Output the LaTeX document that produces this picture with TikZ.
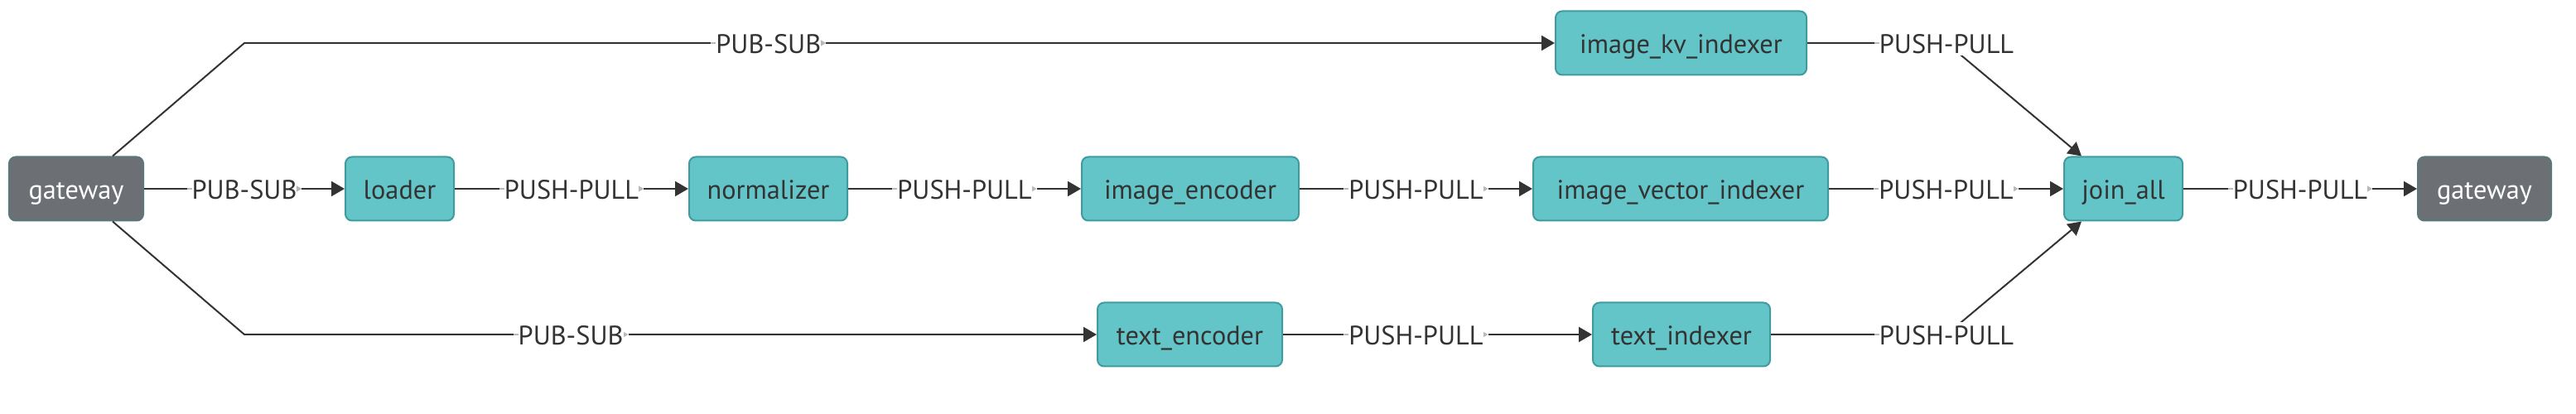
\documentclass[tikz,border=0pt]{standalone}
\usepackage{fontspec}
\setmainfont{PT Sans}
\usetikzlibrary{arrows.meta, positioning}
\definecolor{podfill}{HTML}{64C5C9}
\definecolor{podline}{HTML}{3F9B9E}
\definecolor{gatefill}{HTML}{6C7075}
\definecolor{gateline}{HTML}{587879}
\definecolor{inkgray}{HTML}{333333}

\begin{document}
\begin{tikzpicture}[
    >={Triangle[length=0.16cm, width=0.18cm]},
    podnode/.style={rectangle, rounded corners=0.08cm, draw=podline, line width=0.02cm, fill=podfill, text=inkgray,
        minimum height=0.77cm, inner xsep=0pt, text height=1.4ex, text depth=0pt, font=\fontsize{9.2}{11}\selectfont},
    gatenode/.style={podnode, draw=gateline, fill=gatefill, text=white},
    edge/.style={->, line width=0.02cm, draw=inkgray},
    flowlabel/.style={fill=white, inner xsep=0.06cm, inner ysep=0.03cm, text=inkgray, text height=1.4ex, text depth=0pt,
        font=\fontsize{9.2}{11}\selectfont,
        path picture={
            \draw[gray!55, line width=0.02cm] (path picture bounding box.west) -- (path picture bounding box.east);
            \fill[white] ([xshift=0.06cm]path picture bounding box.south west) rectangle ([xshift=-0.06cm]path picture bounding box.north east);
        }
    },
    cornerlabel/.style={flowlabel,
        path picture={
            \draw[gray!55, line width=0.02cm] (path picture bounding box.west) -- (path picture bounding box.center);
            \fill[white] ([xshift=0.06cm]path picture bounding box.south west) rectangle (path picture bounding box.north east);
        }
    }
]
\useasboundingbox (0,2.28) rectangle (31.1,-2.72);

% ===== Nodes =====
\node[gatenode, minimum width=1.62cm] (gw_in) at (0.92, 0) {gateway};
\node[podnode, minimum width=1.31cm] (loader) at (4.825, 0) {loader};
\node[podnode, minimum width=1.91cm] (normalizer) at (9.275, 0) {normalizer};
\node[podnode, minimum width=2.62cm] (img_enc) at (14.37, 0) {image\_encoder};
\node[podnode, minimum width=3.56cm] (img_vec) at (20.29, 0) {image\_vector\_indexer};
\node[podnode, minimum width=3.03cm] (img_kv) at (20.295, 1.76) {image\_kv\_indexer};
\node[podnode, minimum width=2.23cm] (txt_enc) at (14.365, -1.76) {text\_encoder};
\node[podnode, minimum width=2.14cm] (txt_idx) at (20.30, -1.76) {text\_indexer};
\node[podnode, minimum width=1.43cm] (join) at (25.635, 0) {join\_all};
\node[gatenode, minimum width=1.61cm] (gw_out) at (29.995, 0) {gateway};

% bends
\coordinate (top_turn) at (2.95, 1.76);
\coordinate (bot_turn) at (2.95, -1.76);
\coordinate (kv_turn) at (23.50, 1.76);
\coordinate (ti_turn) at (23.50, -1.76);

% ===== Edges =====
\draw[edge] ([xshift=0.44cm]gw_in.north) -- (top_turn) -- node[flowlabel, pos=0.4] {PUB-SUB} (img_kv);
\draw[edge] (gw_in) -- node[flowlabel] {PUB-SUB} (loader);
\draw[edge] ([xshift=0.44cm]gw_in.south) -- (bot_turn) -- node[flowlabel, pos=0.383] {PUB-SUB} (txt_enc);

\draw[edge] (loader) -- node[flowlabel] {PUSH-PULL} (normalizer);
\draw[edge] (normalizer) -- node[flowlabel] {PUSH-PULL} (img_enc);
\draw[edge] (img_enc) -- node[flowlabel] {PUSH-PULL} (img_vec);
\draw[edge] (txt_enc) -- node[flowlabel, pos=0.43] {PUSH-PULL} (txt_idx);

\draw[edge] (img_kv) -- (kv_turn) node[cornerlabel] {PUSH-PULL} -- ([xshift=-0.505cm]join.north);
\draw[edge] (img_vec) -- node[flowlabel] {PUSH-PULL} (join);
\draw[edge] (txt_idx) -- (ti_turn) node[cornerlabel] {PUSH-PULL} -- ([xshift=-0.505cm]join.south);

\draw[edge] (join) -- node[flowlabel] {PUSH-PULL} (gw_out);

\end{tikzpicture}
\end{document}
